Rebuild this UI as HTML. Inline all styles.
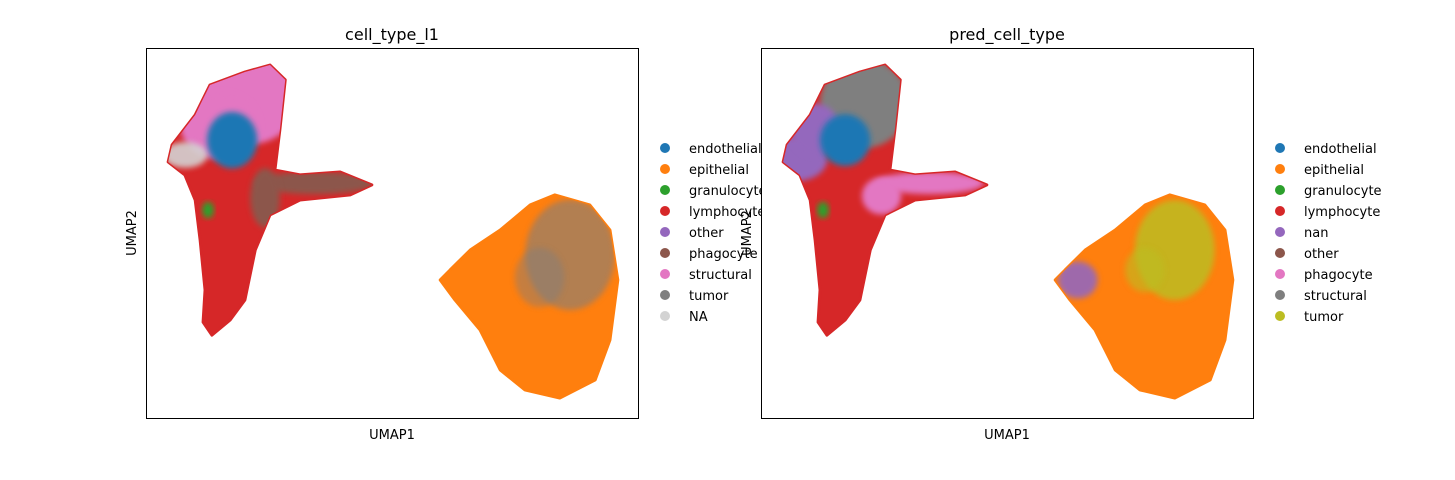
<!DOCTYPE html>
<html><head><meta charset="utf-8"><style>
body{margin:0;background:#fff;}
svg{display:block;font-family:"DejaVu Sans","Liberation Sans",sans-serif;}
</style></head><body>
<svg id="fig" width="1455" height="480" viewBox="0 0 1455 480" xmlns="http://www.w3.org/2000/svg">
<defs><filter id="soft" x="-20%" y="-20%" width="140%" height="140%"><feGaussianBlur stdDeviation="3"/></filter></defs>
</svg>
<script>
// ---- data (UMAP coords scaled 0..100) ----
const leftClusterOutline = [[25.2,95.4],[28.3,91.4],[27.2,77.8],[26.2,67.0],[31.3,65.7],[39.4,66.5],[45.9,63.0],[41.5,60.3],[31.3,58.9],[25.2,54.9],[22.2,45.4],[20.1,31.9],[17.1,26.5],[13.4,22.4],[11.6,25.9],[12.0,34.6],[11.0,48.1],[10.0,58.9],[7.9,65.7],[4.5,69.2],[5.3,73.8],[10.0,81.9],[13.0,90.0],[20.1,93.5]];
const rightClusterOutline = [[61.8,40],[65.9,45.4],[72,50.8],[78.1,57.6],[83.1,60.3],[90.2,57.6],[94.3,50.8],[95.9,37.3],[94.3,21.1],[91.3,10.3],[84.1,5.4],[77,7.6],[72,13],[67.9,23.8],[62.8,31.9],[59.8,37.3]];
// blobs: [cx, cy, rx, ry, categoryIndex, opacity]
const panel1Categories = ["endothelial","epithelial","granulocyte","lymphocyte","other","phagocyte","structural","tumor","NA"];
const panel1Colors = ["#1f77b4","#ff7f0e","#2ca02c","#d62728","#9467bd","#8c564b","#e377c2","#7f7f7f","#d3d3d3"];
const panel1Base = [3, 1];
const panel1Blobs = [[21,86,10,12,6,1],[15,79,8,9,6,1],[8,71.1,4.5,3.5,8,0.9],[17.5,75.1,5.1,7.6,0,1],[34.3,63.5,12.2,3.0,5,1],[24.2,59.5,3,8,5,1],[12.6,56.2,1.2,2.2,2,1],[86.2,44.1,9.1,14.9,7,0.6],[80,38,5,8,7,0.45]];
const panel2Categories = ["endothelial","epithelial","granulocyte","lymphocyte","nan","other","phagocyte","structural","tumor"];
const panel2Colors = ["#1f77b4","#ff7f0e","#2ca02c","#d62728","#9467bd","#8c564b","#e377c2","#7f7f7f","#bcbd22"];
const panel2Base = [3, 1];
const panel2Blobs = [[21,85,9,12,7,1],[7,70,6.5,6,4,1],[11,78,5,7,4,1],[17.1,75.1,5.1,7,0,1],[34.3,63.5,11,3.0,6,1],[24.5,60,4,5,6,1],[12.6,56.2,1.2,2.2,2,1],[84.1,45.4,8.1,13.5,8,0.85],[78,40,4,6,8,0.6],[64.4,37.3,4,5,4,0.9]];

const NS="http://www.w3.org/2000/svg";
const svg=document.getElementById('fig');
function mk(tag,attrs,parent){const e=document.createElementNS(NS,tag);for(const k in attrs)e.setAttribute(k,attrs[k]);(parent||svg).appendChild(e);return e;}

function panel(ox, title, cats, colors, base, blobs, key){
  const W=492,H=370,T=48;
  const sx=v=>ox+v/100*W, sy=v=>T+H-v/100*H;
  const g=mk('g',{});
  
  
  const bg=mk('rect',{x:ox,y:T,width:W,height:H,fill:'#fff'},g);
  
  
  const clipId='clip'+key;
  [leftClusterOutline,rightClusterOutline].forEach((ol,i)=>{
    const p=mk('polygon',{points:ol.map(q=>sx(q[0])+','+sy(q[1])).join(' '),fill:colors[base[i]],stroke:colors[base[i]],'stroke-width':3,'stroke-linejoin':'round'},g);
    
    
  });
  const cp2=mk('clipPath',{id:clipId+'s'},g);
  [leftClusterOutline,rightClusterOutline].forEach(ol=>mk('polygon',{points:ol.map(q=>sx(q[0])+','+sy(q[1])).join(' ')},cp2));
  const blobG=mk('g',{'clip-path':'url(#'+clipId+'s)'},g);
  blobs.forEach(b=>{
    const e=mk('ellipse',{cx:sx(b[0]),cy:sy(b[1]),rx:b[2]/100*W,ry:b[3]/100*H,fill:colors[b[4]],opacity:b[5],filter:'url(#soft)'},blobG);
    
    
  });
  const fr=mk('rect',{x:ox+0.5,y:T+0.5,width:W,height:H,fill:'none',stroke:'#000','stroke-width':1},g);
  
  
  const t=mk('text',{x:ox+W/2,y:40,'text-anchor':'middle','font-size':16,fill:'#000'},g);t.textContent=title;
  
  
  const xl=mk('text',{x:ox+W/2,y:439,'text-anchor':'middle','font-size':13,fill:'#000'},g);xl.textContent='UMAP1';
  
  
  const yl=mk('text',{x:0,y:0,'text-anchor':'middle','font-size':13,fill:'#000',transform:'translate('+(ox-10)+','+(T+H/2)+') rotate(-90)'},g);yl.textContent='UMAP2';
  
  
  const lg=mk('g',{},g);
  
  
  cats.forEach((c,i)=>{
    const y=148+i*21;
    const d=mk('circle',{cx:ox+519,cy:y,r:5,fill:colors[i]},lg);
    
    
    const tx=mk('text',{x:ox+543,y:y+5,'font-size':13,fill:'#000'},lg);tx.textContent=c;
    
    
  });
}
panel(146,'cell_type_l1',panel1Categories,panel1Colors,panel1Base,panel1Blobs,'left');
panel(761,'pred_cell_type',panel2Categories,panel2Colors,panel2Base,panel2Blobs,'right');
</script>
</body></html>
